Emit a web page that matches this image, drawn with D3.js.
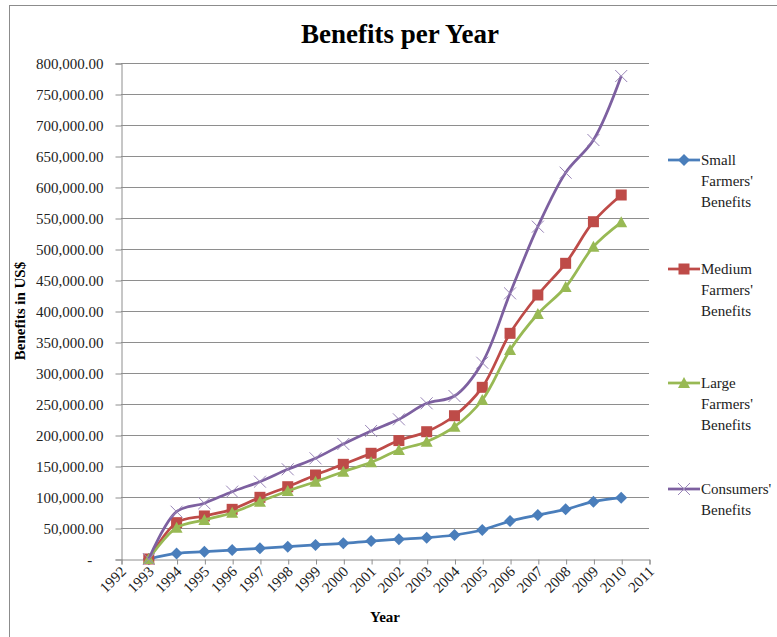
<!DOCTYPE html>
<html>
<head>
<meta charset="utf-8">
<script src="https://cdn.jsdelivr.net/npm/d3@7"></script>
<style>
    body { margin: 0; background: #fff; }
    text { font-family: "Liberation Serif", "Times New Roman", serif; }
</style>
</head>
<body>
<div id="chart"></div>
<script>

// data
let years = [1993, 1994, 1995, 1996, 1997, 1998, 1999, 2000, 2001, 2002,
             2003, 2004, 2005, 2006, 2007, 2008, 2009, 2010];

let smallFarmers = [0, 9000, 11800, 14500, 17200, 19900, 22600, 25300, 29000, 32000,
                    34400, 38700, 46800, 61300, 71000, 80100, 92500, 98900];

let mediumFarmers = [0, 58600, 69400, 80100, 99500, 116600, 135500, 152700, 170500, 191000,
                     205300, 231100, 276900, 364000, 425800, 476900, 544000, 587100];

let largeFarmers = [0, 50500, 62900, 74700, 92400, 109700, 124700, 140800, 156000, 175800,
                    189200, 213400, 256500, 337100, 395200, 438700, 503700, 543000];

let consumers = [0, 76300, 90000, 108600, 124700, 144700, 162400, 185500, 206500, 225300,
                 251100, 262900, 316600, 428500, 536000, 623100, 675800, 779000];

let xTicks = d3.range(1992, 2012);
let yTicks = d3.range(0, 800001, 50000);

let seriesNames = [["Small", "Farmers'", "Benefits"],
                   ["Medium", "Farmers'", "Benefits"],
                   ["Large", "Farmers'", "Benefits"],
                   ["Consumers'", "Benefits"]];

let width = 777, height = 637;
let margin = {top: 63, right: 128, bottom: 78, left: 121};

let svg = d3.select("#chart").append("svg")
    .attr("width", width)
    .attr("height", height);

// outer frame (only top and left edges are in view)
svg.append("rect")
    .attr("x", 9.5).attr("y", 5.5)
    .attr("width", 800).attr("height", 700)
    .attr("fill", "none")
    .attr("stroke", "#8c8c8c");

let x = d3.scaleLinear()
    .domain([1992, 2011])
    .range([margin.left, width - margin.right]);

let y = d3.scaleLinear()
    .domain([0, 800000])
    .range([height - margin.bottom, margin.top]);

// gridlines
svg.append("g")
    .selectAll("line")
    .data(yTicks.slice(1))
    .enter().append("line")
    .attr("x1", x(1992)).attr("x2", x(2011))
    .attr("y1", d => Math.round(y(d)) + 0.5)
    .attr("y2", d => Math.round(y(d)) + 0.5)
    .attr("stroke", "#8e8e8e")
    .attr("stroke-width", 1);

// y axis
let fmt = d3.format(",.2f");
let yAxis = svg.append("g")
    .attr("transform", `translate(${x(1992) + 0.5},0.5)`)
    .call(d3.axisLeft(y).tickValues(yTicks).tickSize(6).tickPadding(12)
        .tickFormat(d => d === 0 ? "-   " : fmt(d)));
yAxis.select(".domain").attr("stroke", "#8e8e8e");
yAxis.selectAll(".tick line").attr("stroke", "#8e8e8e");
yAxis.selectAll(".tick text")
    .attr("font-family", "Liberation Serif")
    .attr("font-size", "15px")
    .attr("fill", "#222")
    .style("white-space", "pre");

// x axis
let xAxis = svg.append("g")
    .attr("transform", `translate(0.5,${Math.round(y(0)) + 0.5})`)
    .call(d3.axisBottom(x).tickValues(xTicks).tickSize(5).tickFormat(d3.format("d")));
xAxis.select(".domain").attr("stroke", "#8e8e8e");
xAxis.selectAll(".tick line").attr("stroke", "#8e8e8e");
xAxis.selectAll(".tick text")
    .attr("font-family", "Liberation Serif")
    .attr("font-size", "15px")
    .attr("fill", "#222")
    .attr("text-anchor", "end")
    .attr("dy", null)
    .attr("y", 0)
    .attr("transform", "translate(5,13) rotate(-45)");

// titles
svg.append("text")
    .attr("x", 400).attr("y", 43)
    .attr("text-anchor", "middle")
    .attr("font-size", "27px")
    .attr("font-weight", "bold")
    .text("Benefits per Year");

svg.append("text")
    .attr("transform", `translate(25,${(y(0) + y(800000)) / 2}) rotate(-90)`)
    .attr("text-anchor", "middle")
    .attr("font-size", "15px")
    .attr("font-weight", "bold")
    .text("Benefits in US$");

svg.append("text")
    .attr("x", 385).attr("y", 622)
    .attr("text-anchor", "middle")
    .attr("font-size", "15px")
    .attr("font-weight", "bold")
    .text("Year");

// series
let series = [
    {values: smallFarmers, color: "#4a7ebb", marker: "diamond"},
    {values: mediumFarmers, color: "#be4b48", marker: "square"},
    {values: largeFarmers, color: "#98b954", marker: "triangle"},
    {values: consumers, color: "#7d60a0", marker: "cross"}
];

let line = d3.line()
    .x(d => x(d[0]))
    .y(d => y(d[1]))
    .curve(d3.curveCatmullRom.alpha(0.5));

function drawMarker(g, marker, color, cx, cy) {
    if (marker === "diamond") {
        g.append("path")
            .attr("d", `M${cx},${cy - 6}L${cx + 6},${cy}L${cx},${cy + 6}L${cx - 6},${cy}Z`)
            .attr("fill", color);
    } else if (marker === "square") {
        g.append("rect")
            .attr("x", cx - 5.5).attr("y", cy - 5.5)
            .attr("width", 11).attr("height", 11)
            .attr("fill", color);
    } else if (marker === "triangle") {
        g.append("path")
            .attr("d", `M${cx},${cy - 6}L${cx + 6},${cy + 5}L${cx - 6},${cy + 5}Z`)
            .attr("fill", color);
    } else {
        g.append("path")
            .attr("d", `M${cx - 6},${cy - 6}L${cx + 6},${cy + 6}M${cx - 6},${cy + 6}L${cx + 6},${cy - 6}`)
            .attr("stroke", "#9a86b8")
            .attr("stroke-width", 1)
            .attr("fill", "none");
    }
}

series.forEach(s => {
    let pts = years.map((yr, i) => [yr, s.values[i]]);
    svg.append("path")
        .datum(pts)
        .attr("d", line)
        .attr("fill", "none")
        .attr("stroke", s.color)
        .attr("stroke-width", 2.75)
        .attr("stroke-linejoin", "round");
    let g = svg.append("g");
    pts.forEach(p => drawMarker(g, s.marker, s.color, x(p[0]), y(p[1])));
});

// legend
let legendY = [160, 269, 383, 489];
series.forEach((s, i) => {
    let g = svg.append("g").attr("transform", `translate(0,${legendY[i]})`);
    g.append("line")
        .attr("x1", 668).attr("x2", 700)
        .attr("y1", 0).attr("y2", 0)
        .attr("stroke", s.color)
        .attr("stroke-width", 2.75);
    drawMarker(g, s.marker, s.color, 684, 0);
    g.append("text")
        .attr("x", 701).attr("y", 5)
        .attr("font-size", "15px")
        .attr("fill", "#222")
        .selectAll("tspan")
        .data(seriesNames[i])
        .enter().append("tspan")
        .attr("x", 701)
        .attr("dy", (d, j) => j === 0 ? 0 : 21)
        .text(d => d);
});

</script>
</body>
</html>
